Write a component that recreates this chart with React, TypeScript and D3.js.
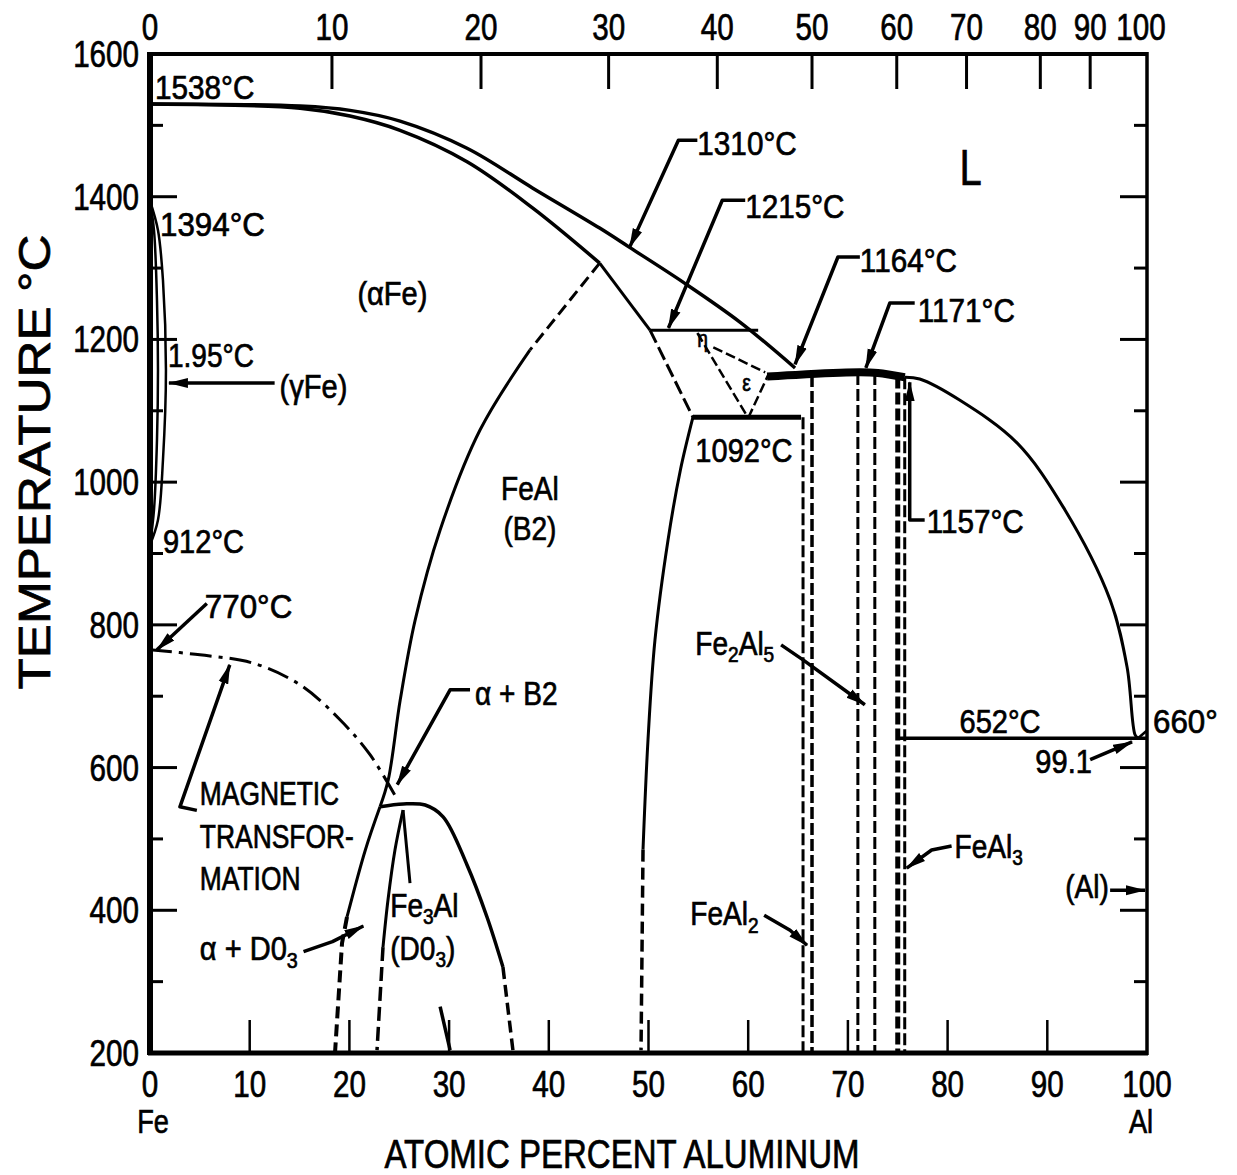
import React from 'react';
import * as d3 from 'd3';

const W = 1237, H = 1175;

// axes
const tempTickValues = [200, 300, 400, 500, 600, 700, 800, 900, 1000, 1100, 1200, 1300, 1400, 1500, 1600];
const tempLabelValues = [200, 400, 600, 800, 1000, 1200, 1400, 1600];
const atTicks = [0, 10, 20, 30, 40, 50, 60, 70, 80, 90, 100];
const wtLabels = ['0', '10', '20', '30', '40', '50', '60', '70', '80', '90', '100'];
const wtTickAt = [0, 18.25, 33.2, 46.0, 56.9, 66.4, 74.9, 81.9, 89.3, 94.3, 100];

// phase boundaries [at.% Al, T °C]
const liquidusFe = [[0, 1530], [15.05, 1527], [20.06, 1521], [25.08, 1506], [31.8, 1468], [38.4, 1412], [45.1, 1356], [48.1, 1329], [53.5, 1280], [59.2, 1224], [64.7, 1160]];
const solidusFe = [[0, 1530], [15.05, 1524], [20.06, 1513], [25.08, 1493], [31.8, 1449], [38.4, 1384], [45.1, 1307]];
const alphaB2Dashed = [[45.1, 1307], [38.1, 1185]];
const alphaB2Solid = [[38.1, 1185], [33.1, 1073], [29.1, 933], [26.6, 807], [25.1, 695], [23.9, 583], [23.07, 545]];
const do3Dome = [[23.07, 545], [25.4, 549], [27.6, 547.5], [29.4, 531], [31.8, 463.5], [33.8, 390.6], [35.4, 320.5]];
const do3DomeDashed = [[35.4, 320.5], [36.4, 204]];
const alphaDo3Left = [[23.07, 545], [21.6, 484.5], [19.76, 390.6]];
const alphaDo3LeftDashed = [[19.76, 390.6], [19.26, 354], [18.56, 201]];
const do3Left = [[25.38, 540.5], [24.57, 484.5], [23.87, 414.4], [23.37, 348.5]];
const do3LeftDashed = [[23.37, 348.5], [22.77, 204]];
const do3MidUpper = [[25.38, 540.5], [26.08, 438]];
const do3MidLower = [[29.1, 265], [30.1, 204]];
const magnetic = [[0, 765], [5, 758], [10.3, 746.5], [15.05, 716], [19.06, 667], [22.07, 618], [24.57, 561]];
const gammaOuter = [[0, 1394], [0.8, 1353], [1.3, 1283], [1.6, 1157], [1.3, 1031], [0.8, 947], [0, 912]];
const gammaInner = [[0, 1394], [0.4, 1353], [0.7, 1255], [0.8, 1157], [0.7, 1059], [0.4, 961], [0, 912]];
const b2RightTop = [[45.1, 1307], [50.15, 1213]];
const b2RightDashed = [[50.15, 1213], [54.46, 1091]];
const b2Right = [[54.46, 1091], [53.2, 1017], [51.96, 919], [50.65, 779], [49.95, 639], [49.45, 485]];
const b2RightLowDashed = [[49.45, 485], [49.25, 204]];
const iso1215 = [[50.15, 1213], [61, 1213]];
const iso1092 = [[54.46, 1091], [65.3, 1091]];
const isoTop = [[61.9, 1148], [65.5, 1151], [71.2, 1154], [73, 1153], [75.7, 1147]];
const iso652 = [[75.2, 641], [100, 641]];
const epsA = [[54.9, 1209], [60, 1090]];
const epsB = [[60, 1090], [62, 1150]];
const epsC = [[56.5, 1189], [61.7, 1154]];
const liquidusAl = [[75.7, 1147], [77.2, 1144.5], [81.2, 1115], [86.96, 1055], [91.6, 965], [96.3, 835], [98.0, 741], [98.8, 646], [99.1, 641]];
const alEnd = [[99.1, 641], [100, 652]];
const compoundLines = [
  { at: 65.5, top: 1091, w: 3 },
  { at: 66.4, top: 1150, w: 3.5 },
  { at: 71.0, top: 1153, w: 3 },
  { at: 72.7, top: 1153, w: 3 },
  { at: 75.0, top: 1148, w: 5 },
  { at: 75.7, top: 1147, w: 3 },
];

// leaders (label -> feature)
const leaders = [
  [[5.7, 830], [0.7, 765]],
  [[12.5, 1139], [1.9, 1139]],
  [[54.9, 1479], [53.0, 1479], [48.1, 1329]],
  [[59.7, 1395], [57.4, 1395], [52.0, 1216]],
  [[71.2, 1315.5], [69.0, 1315.5], [64.7, 1165]],
  [[76.7, 1251], [74.2, 1251], [71.8, 1160]],
  [[77.7, 947], [76.2, 947], [76.2, 1140]],
  [[63.3, 772], [65.5, 751], [71.7, 688]],
  [[32.1, 709], [30.1, 709], [24.8, 576]],
  [[94.3, 611], [98.5, 636]],
  [[4.7, 540], [3.0, 545], [8.0, 744]],
  [[15.4, 342], [18.3, 356], [21.4, 378]],
  [[61.6, 393], [64.2, 372], [65.9, 351]],
  [[80.4, 490], [78.4, 484.5], [75.9, 459]],
  [[96.3, 428], [99.8, 428]],
];

// labels
const labels = [
  { t: '1538°C', a: 0.5, T: 1537, sx: 0.9 },
  { t: '1394°C', a: 1.0, T: 1345, sx: 0.95 },
  { t: '1.95°C', a: 1.8, T: 1161, sx: 0.85 },
  { t: '(γFe)', a: 13.0, T: 1118, sx: 0.88 },
  { t: '912°C', a: 1.3, T: 901, sx: 0.88 },
  { t: '770°C', a: 5.5, T: 810, sx: 0.95 },
  { t: '(αFe)', a: 20.8, T: 1248, sx: 0.88 },
  { t: '1310°C', a: 54.9, T: 1458, sx: 0.9 },
  { t: '1215°C', a: 59.7, T: 1370, sx: 0.9 },
  { t: '1164°C', a: 71.2, T: 1294, sx: 0.9 },
  { t: '1171°C', a: 77.0, T: 1224, sx: 0.9 },
  { t: '1092°C', a: 54.7, T: 1028, sx: 0.88 },
  { t: '1157°C', a: 77.9, T: 929, sx: 0.9 },
  { t: 'FeAl', a: 38.1, T: 975, mid: true, sx: 0.85 },
  { t: '(B2)', a: 38.1, T: 919, mid: true, sx: 0.85 },
  { t: 'Fe_2Al_5', a: 54.7, T: 758, sx: 0.85 },
  { t: 'α + B2', a: 32.6, T: 688, sx: 0.85 },
  { t: '652°C', a: 81.2, T: 648, sx: 0.88 },
  { t: '660°', a: 100.6, T: 648, sx: 0.95 },
  { t: '99.1', a: 88.8, T: 592, sx: 0.88 },
  { t: 'MAGNETIC', a: 5.0, T: 547, sx: 0.8 },
  { t: 'TRANSFOR-', a: 5.0, T: 487, sx: 0.8 },
  { t: 'MATION', a: 5.0, T: 428, sx: 0.8 },
  { t: 'α + D0_3', a: 5.0, T: 330, sx: 0.88 },
  { t: 'Fe_3Al', a: 24.1, T: 391, sx: 0.85 },
  { t: '(D0_3)', a: 24.1, T: 331, sx: 0.85 },
  { t: 'FeAl_2', a: 54.2, T: 379, sx: 0.85 },
  { t: 'FeAl_3', a: 80.7, T: 473, sx: 0.85 },
  { t: '(Al)', a: 91.8, T: 417, sx: 0.85 },
];
const smallLabels = [
  { t: 'ε', a: 59.4, T: 1128 },
  { t: 'η', a: 54.9, T: 1190 },
];

const FONT = '"Liberation Sans", Arial, sans-serif';
const SX = 0.8;

function Rich({ text, x, y, size, anchor, sx }: any) {
  const parts = text.split(/_(\w)/);
  const sub = size * 0.22;
  const kids: any[] = [];
  parts.forEach((p: string, i: number) => {
    if (i % 2 === 1) {
      kids.push(<tspan key={i} dy={sub} fontSize={size * 0.68}>{p}</tspan>);
    } else if (p !== '') {
      kids.push(<tspan key={i} dy={i > 0 ? -sub : 0}>{p}</tspan>);
    }
  });
  return (
    <text transform={`translate(${x},${y}) scale(${sx ?? SX},1)`} fontSize={size}
      textAnchor={anchor || 'start'} fontFamily={FONT}
      fill="#000" stroke="#000" strokeWidth={0.7}>{kids}</text>
  );
}

export default function App() {
  const x = d3.scaleLinear().domain([0, 100]).range([150, 1147]);
  const y = d3.scaleLinear().domain([200, 1600]).range([1053, 54]);
  const curved = d3.line<number[]>().x(d => x(d[0])).y(d => y(d[1])).curve(d3.curveCatmullRom.alpha(0.5));
  const straight = d3.line<number[]>().x(d => x(d[0])).y(d => y(d[1]));

  const phase: any[] = [
    { d: curved(liquidusFe), w: 3.5 },
    { d: curved(solidusFe), w: 3.5 },
    { d: straight(alphaB2Dashed), w: 3, dash: '12 6' },
    { d: curved(alphaB2Solid), w: 3 },
    { d: curved(do3Dome), w: 3.5 },
    { d: straight(do3DomeDashed), w: 3.5, dash: '12 6' },
    { d: curved(alphaDo3Left), w: 3 },
    { d: straight(alphaDo3LeftDashed), w: 4, dash: '12 6' },
    { d: curved(do3Left), w: 3 },
    { d: straight(do3LeftDashed), w: 3.5, dash: '14 6' },
    { d: straight(do3MidUpper), w: 3 },
    { d: straight(do3MidLower), w: 3.5 },
    { d: curved(magnetic), w: 3, dash: '22 7 4 7' },
    { d: curved(gammaOuter), w: 2.5 },
    { d: curved(gammaInner), w: 2.5 },
    { d: straight(b2RightTop), w: 3 },
    { d: straight(b2RightDashed), w: 3, dash: '14 5' },
    { d: curved(b2Right), w: 3 },
    { d: straight(b2RightLowDashed), w: 3.5, dash: '12 6' },
    { d: straight(iso1215), w: 3 },
    { d: straight(iso1092), w: 5 },
    { d: curved(isoTop), w: 8 },
    { d: straight(iso652), w: 3.5 },
    { d: straight(epsA), w: 2.5, dash: '10 4' },
    { d: straight(epsB), w: 2.5, dash: '10 4' },
    { d: straight(epsC), w: 2.5, dash: '10 4' },
    { d: curved(liquidusAl), w: 3 },
    { d: straight(alEnd), w: 2.5 },
  ];
  compoundLines.forEach(c => {
    phase.push({ d: straight([[c.at, c.top], [c.at, 200]]), w: c.w, dash: '12 4' });
  });

  return (
    <svg width={W} height={H} viewBox={`0 0 ${W} ${H}`}
      style={{ position: 'absolute', left: 0, top: 0, background: '#fff' }}>
      <defs>
        <marker id="arr" markerUnits="userSpaceOnUse" markerWidth={20} markerHeight={12}
          refX={19} refY={6} orient="auto">
          <path d="M0,1 L20,6 L0,11 Z" fill="#000" />
        </marker>
      </defs>
      <rect width={W} height={H} fill="#fff" />

      {/* frame */}
      <line x1={150} y1={52} x2={150} y2={1055} stroke="#000" strokeWidth={6} />
      <line x1={148} y1={54} x2={1147} y2={54} stroke="#000" strokeWidth={4} />
      <line x1={1147} y1={52} x2={1147} y2={1055} stroke="#000" strokeWidth={3.5} />
      <line x1={148} y1={1053} x2={1148} y2={1053} stroke="#000" strokeWidth={5} />

      {/* left/right ticks */}
      {tempTickValues.map(v => {
        const major = v % 200 === 0;
        const L = major ? 27 : 13;
        return (
          <g key={'t' + v}>
            <line x1={150} x2={150 + L} y1={y(v)} y2={y(v)} stroke="#000" strokeWidth={3} />
            <line x1={1147} x2={1147 - L} y1={y(v)} y2={y(v)} stroke="#000" strokeWidth={3} />
          </g>
        );
      })}
      {tempLabelValues.map(v => (
        <Rich key={'tl' + v} text={String(v)} x={139} y={y(v) + 13} size={37} anchor="end" />
      ))}

      {/* bottom ticks */}
      {atTicks.filter(v => v > 0 && v < 100).map(v => (
        <line key={'b' + v} x1={x(v)} x2={x(v)} y1={1053} y2={1020} stroke="#000" strokeWidth={2.5} />
      ))}
      {atTicks.map(v => (
        <Rich key={'bl' + v} text={String(v)} x={x(v)} y={1097} size={37} anchor="middle" />
      ))}

      {/* top ticks (weight percent) */}
      {wtTickAt.map((v, i) => (i > 0 && i < wtTickAt.length - 1) ? (
        <line key={'w' + i} x1={x(v)} x2={x(v)} y1={54} y2={89} stroke="#000" strokeWidth={3} />
      ) : null)}
      {wtTickAt.map((v, i) => (
        <Rich key={'wl' + i} text={wtLabels[i]} x={x(v) - (i === wtTickAt.length - 1 ? 6 : 0)} y={40}
          size={37} anchor="middle" />
      ))}

      {/* phase lines */}
      {phase.map((p, i) => (
        <path key={'p' + i} d={p.d} fill="none" stroke="#000" strokeWidth={p.w}
          strokeDasharray={p.dash} strokeLinejoin="round" />
      ))}

      {/* leaders */}
      {leaders.map((l, i) => (
        <path key={'l' + i} d={straight(l) as string} fill="none" stroke="#000" strokeWidth={3.5}
          markerEnd="url(#arr)" strokeLinejoin="round" />
      ))}

      {/* labels */}
      {labels.map((l, i) => (
        <Rich key={'lab' + i} text={l.t} x={x(l.a)} y={y(l.T)} size={33} sx={l.sx}
          anchor={l.mid ? 'middle' : 'start'} />
      ))}
      {smallLabels.map((l, i) => (
        <Rich key={'s' + i} text={l.t} x={x(l.a)} y={y(l.T)} size={24} />
      ))}
      <Rich text="L" x={x(81.2)} y={y(1416)} size={50} />

      {/* axis titles */}
      <text transform={`translate(50,462) rotate(-90)`} textAnchor="middle" fontSize={44} fontFamily={FONT}
        textLength={455} lengthAdjust="spacingAndGlyphs" fill="#000" stroke="#000" strokeWidth={0.7}>TEMPERATURE °C</text>
      <text x={622} y={1168} textAnchor="middle" fontSize={40} fontFamily={FONT}
        textLength={475} lengthAdjust="spacingAndGlyphs" fill="#000" stroke="#000" strokeWidth={0.7}>ATOMIC PERCENT ALUMINUM</text>
      <Rich text="Fe" x={153} y={1133} size={34} anchor="middle" />
      <Rich text="Al" x={1141} y={1133} size={34} anchor="middle" />
    </svg>
  );
}
